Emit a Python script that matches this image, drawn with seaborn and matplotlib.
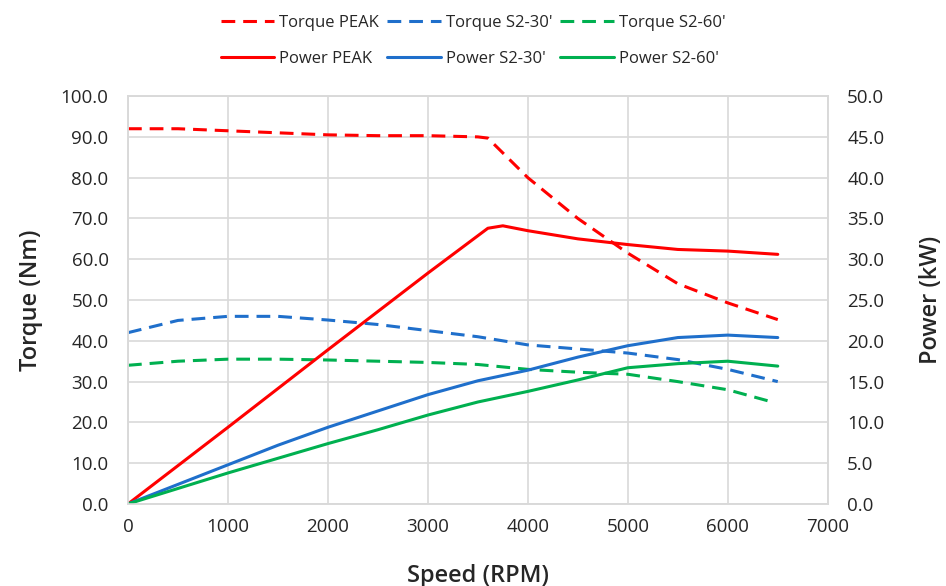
import matplotlib
matplotlib.use("Agg")
import matplotlib.pyplot as plt
import seaborn as sns
import pandas as pd
from matplotlib.ticker import FormatStrFormatter, MultipleLocator

# ---- data ----
tq_peak_rpm = [0, 500, 1000, 1500, 2000, 2500, 3000, 3500, 3600, 4000, 4500, 5000, 5500, 6000, 6500]
tq_peak = [92.0, 92.0, 91.5, 91.0, 90.5, 90.3, 90.3, 90.0, 89.7, 80.0, 70.0, 61.5, 54.0, 49.3, 45.2]

pw_peak_rpm = [0, 1000, 2000, 3000, 3600, 3750, 4000, 4500, 5000, 5500, 6000, 6500]
pw_peak = [0.0, 9.4, 18.9, 28.3, 33.8, 34.1, 33.5, 32.5, 31.8, 31.2, 31.0, 30.6]

tq30_rpm = [0, 500, 1000, 1500, 2000, 2500, 3000, 3500, 4000, 4500, 5000, 5500, 6000, 6500]
tq30 = [42.0, 45.0, 46.0, 46.0, 45.1, 44.0, 42.5, 41.0, 39.0, 38.0, 37.0, 35.4, 33.0, 30.0]

pw30_rpm = [0, 1000, 1500, 2000, 2500, 3000, 3500, 4000, 4500, 5000, 5500, 6000, 6500]
pw30 = [0.0, 4.8, 7.2, 9.4, 11.4, 13.4, 15.1, 16.4, 18.0, 19.4, 20.4, 20.7, 20.4]

tq60_rpm = [0, 500, 1000, 1500, 2000, 2500, 3000, 3500, 4000, 4500, 5000, 5500, 6000, 6400]
tq60 = [34.0, 35.0, 35.5, 35.5, 35.3, 35.0, 34.7, 34.2, 33.0, 32.3, 31.8, 30.0, 28.0, 25.3]

pw60_rpm = [0, 1000, 2000, 2500, 3000, 3500, 4000, 4500, 5000, 5500, 6000, 6500]
pw60 = [0.0, 3.8, 7.4, 9.1, 10.9, 12.5, 13.8, 15.2, 16.7, 17.2, 17.5, 16.9]

RED, BLUE, GREEN = "#FF0000", "#1F6FCB", "#00B050"
TXT = "#262626"

sns.set_theme(style="white")
plt.rcParams["font.family"] = ["Open Sans", "DejaVu Sans"]

fig = plt.figure(figsize=(9.46, 5.86), dpi=100)
ax = fig.add_axes([0.1353, 0.140, 0.875 - 0.1353, 0.836 - 0.140])
ax2 = ax.twinx()

lw = 2.2
dash = (4.5, 2.6)

def draw(a, xs, ys, color, label, dashed):
    df = pd.DataFrame({"rpm": xs, "val": ys})
    kw = dict(color=color, linewidth=lw, label=label, ax=a, legend=False)
    sns.lineplot(data=df, x="rpm", y="val", **kw)
    line = a.get_lines()[-1]
    if dashed:
        line.set_dashes(dash)
    line.set_label(label)
    return line

h_tp = draw(ax, tq_peak_rpm, tq_peak, RED, "Torque PEAK", True)
h_t30 = draw(ax, tq30_rpm, tq30, BLUE, "Torque S2-30'", True)
h_t60 = draw(ax, tq60_rpm, tq60, GREEN, "Torque S2-60'", True)
h_pp = draw(ax2, pw_peak_rpm, pw_peak, RED, "Power PEAK", False)
h_p30 = draw(ax2, pw30_rpm, pw30, BLUE, "Power S2-30'", False)
h_p60 = draw(ax2, pw60_rpm, pw60, GREEN, "Power S2-60'", False)

ax.set_xlim(0, 7000)
ax.set_ylim(0, 100)
ax2.set_ylim(0, 50)
ax.xaxis.set_major_locator(MultipleLocator(1000))
ax.yaxis.set_major_locator(MultipleLocator(10))
ax2.yaxis.set_major_locator(MultipleLocator(5))
ax.yaxis.set_major_formatter(FormatStrFormatter("%.1f"))
ax2.yaxis.set_major_formatter(FormatStrFormatter("%.1f"))

grid_c = "#D9D9D9"
ax.grid(True, color=grid_c, linewidth=1.2)
ax2.grid(False)
for a in (ax, ax2):
    for s in a.spines.values():
        s.set_color(grid_c)
        s.set_linewidth(1.2)
    a.tick_params(length=0, labelsize=13.5, colors=TXT)
ax.tick_params(axis="y", pad=14)
ax2.tick_params(axis="y", pad=14)
ax.tick_params(axis="x", pad=10)

lab = dict(fontsize=17, fontweight="semibold", color=TXT)
ax.set_xlabel("Speed (RPM)", labelpad=20, **lab)
ax.set_ylabel("Torque (Nm)", labelpad=12.5, **lab)
ax2.set_ylabel("Power (kW)", labelpad=25, **lab)

handles = [h_tp, h_pp, h_t30, h_p30, h_t60, h_p60]
fig.legend(handles=handles, labels=[h.get_label() for h in handles],
           loc="upper center", bbox_to_anchor=(0.5, 1.0), ncol=3, frameon=False,
           fontsize=12, handlelength=3.2, handletextpad=0.3, columnspacing=0.5,
           labelspacing=1.2, labelcolor=TXT)

fig.savefig("out.png", dpi=100)
